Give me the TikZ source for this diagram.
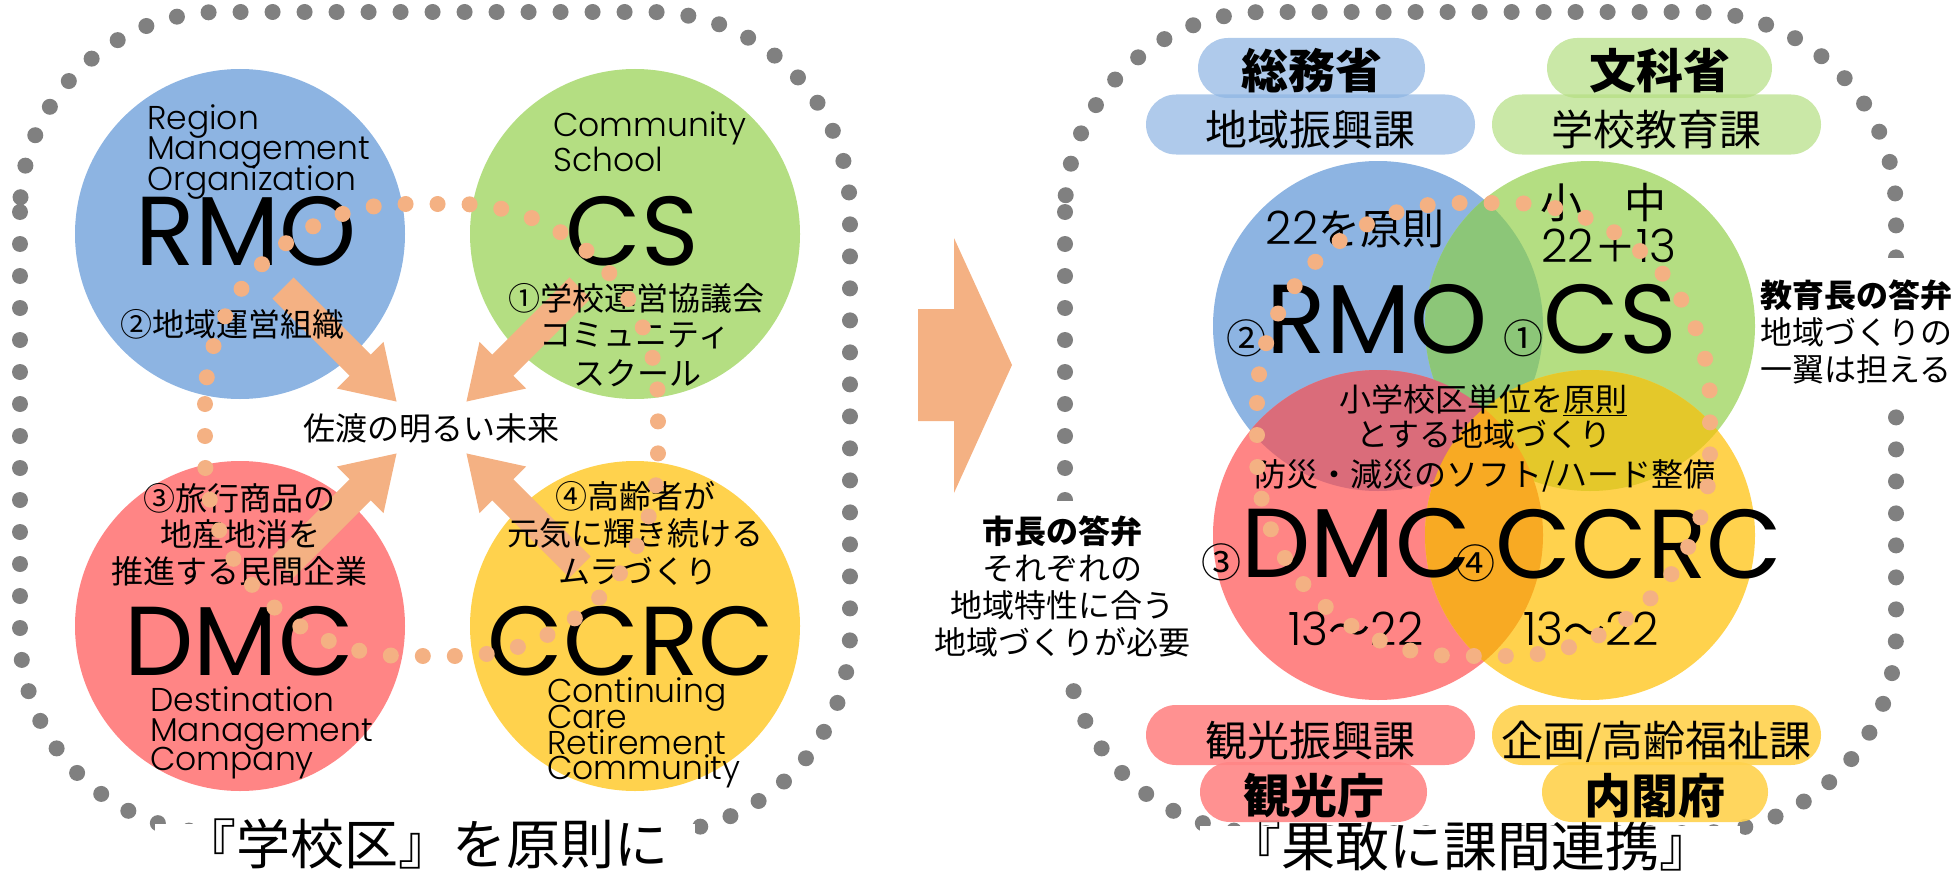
\documentclass[tikz,border=0pt]{standalone}
\usepackage{fontspec}
\setmainfont{Noto Sans CJK JP}
\newfontfamily\lat{Poppins}
\newfontfamily\latl{Poppins Light}
\usetikzlibrary{arrows.meta}

\definecolor{rmoblue}{RGB}{141,180,226}
\definecolor{csgreen}{RGB}{180,222,130}
\definecolor{dmcred}{RGB}{255,133,133}
\definecolor{ccrcyellow}{RGB}{255,210,77}
\definecolor{peach}{RGB}{244,177,131}
\definecolor{dotgray}{RGB}{128,128,128}
\definecolor{bgmix}{RGB}{140,198,120}
\definecolor{brmix}{RGB}{218,108,122}
\definecolor{gymix}{RGB}{228,200,42}
\definecolor{rymix}{RGB}{248,170,35}

\newcommand{\sz}[1]{\fontsize{#1}{#1}\selectfont}
\newcommand{\dg}[1]{{\latl\sz{46}#1}}

\tikzset{
  graydots/.style={draw=dotgray, line width=16pt, line cap=round, dash pattern=on 0pt off 32pt, rounded corners=200pt},
  peachdots/.style={draw=peach, line width=16pt, line cap=round, dash pattern=on 0pt off 32pt, rounded corners=200pt},
  bigarrow/.style={draw=peach, line width=30pt, -{Triangle[width=62pt,length=52pt]}},
  jp/.style={anchor=base, inner sep=0pt, font=\sz{32}},
  latin/.style={anchor=base west, inner sep=0pt, font=\latl\sz{33}},
  acro/.style={anchor=base, inner sep=0pt, font=\lat\sz{98}},
  num/.style={anchor=base, inner sep=0pt, font=\sz{42}},
  ministry/.style={rounded corners=30pt, inner sep=0pt, minimum height=60pt, text height=42pt, text depth=0pt, fill opacity=.7, text opacity=1},
  answer/.style={fill=white, align=center, font=\fontsize{32}{37}\selectfont, inner xsep=3pt},
  motto/.style={fill=white, anchor=base, inner sep=0pt, font=\sz{54}, text height=40pt, text depth=8pt, minimum width=540pt}
}

\begin{document}
\begin{tikzpicture}[x=1pt, y=-1pt]
\useasboundingbox (0,0) rectangle (1956,872);

% outer frames
\draw[graydots] (20,12) rectangle (850,833);
\draw[graydots] (1065,12) rectangle (1896,833);
\node[motto] (leftmotto) at (425,864) {『学校区』を原則に};
\node[motto] (rightmotto) at (1470,866) {『果敢に課間連携』};
\node[answer, inner ysep=14pt] (mayor) at (1062,586) {\textbf{市長の答弁}\\それぞれの\\地域特性に合う\\地域づくりが必要};
\node[answer, inner ysep=22pt, inner xsep=2pt] (edu) at (1856,332) {\textbf{教育長の答弁}\\地域づくりの\\一翼は担える};

% arrow between the panels
\fill[peach] (918,309) -- (954,309) -- (954,238) -- (1012,365) -- (954,493) -- (954,421) -- (918,421) -- cycle;

% left panel
\coordinate (rmoL) at (240,234);
\coordinate (csL) at (635,234);
\coordinate (dmcL) at (240,626);
\coordinate (ccrcL) at (635,626);
\fill[rmoblue] (rmoL) circle[radius=165];
\fill[csgreen] (csL) circle[radius=165];
\fill[dmcred] (dmcL) circle[radius=165];
\fill[ccrcyellow] (ccrcL) circle[radius=165];

\coordinate (rmoTail) at (283,288);
\coordinate (rmoTip) at (397,402);
\coordinate (csTail) at (580,288);
\coordinate (csTip) at (466,402);
\coordinate (dmcTail) at (283,567);
\coordinate (dmcTip) at (397,453);
\coordinate (ccrcTail) at (580,567);
\coordinate (ccrcTip) at (466,453);
\draw[bigarrow] (rmoTail) -- (rmoTip);
\draw[bigarrow] (csTail) -- (csTip);
\draw[bigarrow] (dmcTail) -- (dmcTip);
\draw[bigarrow] (ccrcTail) -- (ccrcTip);

\node[latin] (rmoL1) at (147,130) {Region};
\node[latin] (rmoL2) at (147,160) {Management};
\node[latin] (rmoL3) at (147,190) {Organization};
\node[acro] (rmoLname) at (246,265) {RMO};
\node[jp] (rmoLrole) at (232,336) {②地域運営組織};

\node[latin] (csL1) at (553,137) {Community};
\node[latin] (csL2) at (553,171) {School};
\node[acro] (csLname) at (632,265) {CS};
\node[jp] (csLrole1) at (636,310) {①学校運営協議会};
\node[jp] (csLrole2) at (635,346) {コミュニティ};
\node[jp] (csLrole3) at (637,385) {スクール};

\node[jp] (future) at (431,440) {佐渡の明るい未来};

\node[jp] (dmcLrole1) at (239,510) {③旅行商品の};
\node[jp] (dmcLrole2) at (240,546) {地産地消を};
\node[jp] (dmcLrole3) at (239,583) {推進する民間企業};
\node[acro] (dmcLname) at (239,675) {DMC};
\node[latin] (dmcL1) at (150,711) {Destination};
\node[latin] (dmcL2) at (150,741) {Management};
\node[latin] (dmcL3) at (150,770) {Company};

\node[jp] (ccrcLrole1) at (635,508) {④高齢者が};
\node[jp] (ccrcLrole2) at (635,545) {元気に輝き続ける};
\node[jp] (ccrcLrole3) at (638,583) {ムラづくり};
\node[acro] (ccrcLname) at (631,675) {CCRC};
\node[latin] (ccrcL1) at (547,702) {Continuing};
\node[latin] (ccrcL2) at (547,728) {Care};
\node[latin] (ccrcL3) at (547,754) {Retirement};
\node[latin] (ccrcL4) at (547,779) {Community};

\draw[peachdots] (205,204) rectangle (658,656);

% right panel
\node[ministry, fill=rmoblue, minimum width=227pt, font=\bfseries\sz{47}] (somusho) at (1311.5,68) {総務省};
\node[ministry, fill=rmoblue, minimum width=329pt, font=\sz{42}] (chiiki) at (1310.5,124.5) {地域振興課};
\node[ministry, fill=csgreen, minimum width=225pt, font=\bfseries\sz{47}] (monka) at (1659.5,68) {文科省};
\node[ministry, fill=csgreen, minimum width=329pt, font=\sz{42}] (gakko) at (1656.5,124.5) {学校教育課};
\node[ministry, fill=dmcred, fill opacity=.9, minimum width=329pt, font=\sz{42}] (kanko) at (1310.5,735) {観光振興課};
\node[ministry, fill=dmcred, fill opacity=.9, minimum width=227pt, font=\bfseries\sz{47}] (kankocho) at (1313.5,792) {観光庁};
\node[ministry, fill=ccrcyellow, fill opacity=.9, minimum width=329pt, font=\sz{42}] (kikaku) at (1656.5,735) {企画/高齢福祉課};
\node[ministry, fill=ccrcyellow, fill opacity=.9, minimum width=226pt, font=\bfseries\sz{47}] (naikaku) at (1655,792) {内閣府};

\coordinate (rmoR) at (1378,326);
\coordinate (csR) at (1590,326);
\coordinate (dmcR) at (1378,535);
\coordinate (ccrcR) at (1590,535);
\fill[rmoblue] (rmoR) circle[radius=165];
\fill[csgreen] (csR) circle[radius=165];
\fill[dmcred] (dmcR) circle[radius=165];
\fill[ccrcyellow] (ccrcR) circle[radius=165];
\begin{scope}
  \clip (rmoR) circle[radius=165];
  \fill[bgmix] (csR) circle[radius=165];
  \fill[brmix] (dmcR) circle[radius=165];
\end{scope}
\begin{scope}
  \clip (ccrcR) circle[radius=165];
  \fill[gymix] (csR) circle[radius=165];
  \fill[rymix] (dmcR) circle[radius=165];
\end{scope}

\node[num] (rmoRgoal) at (1355,244) {\dg{22}を原則};
\node[num] (csRlevel) at (1603,218) {小　中};
\node[num] (csRgoal) at (1609,262) {\dg{22}＋\dg{13}};
\node[acro] (rmoRname) at (1357,353) {{\rmfamily\sz{40}②}RMO};
\node[acro] (csRname) at (1590,353) {{\rmfamily\sz{40}①}CS};
\node[jp] (zone1) at (1483,411) {小学校区単位を\underline{原則}};
\node[jp] (zone2) at (1484,446) {とする地域づくり};
\node[jp] (zone3) at (1485,486) {防災・減災のソフト/ハード整備};
\node[acro] (dmcRname) at (1336,577) {{\rmfamily\sz{40}③}DMC};
\node[acro] (ccrcRname) at (1619,578) {{\rmfamily\sz{40}④}CCRC};
\node[num] (dmcRgoal) at (1356,645) {\dg{13}〜\dg{22}};
\node[num] (ccrcRgoal) at (1591,645) {\dg{13}〜\dg{22}};

\draw[peachdots] (1257,203) rectangle (1710,656);
\end{tikzpicture}
\end{document}
